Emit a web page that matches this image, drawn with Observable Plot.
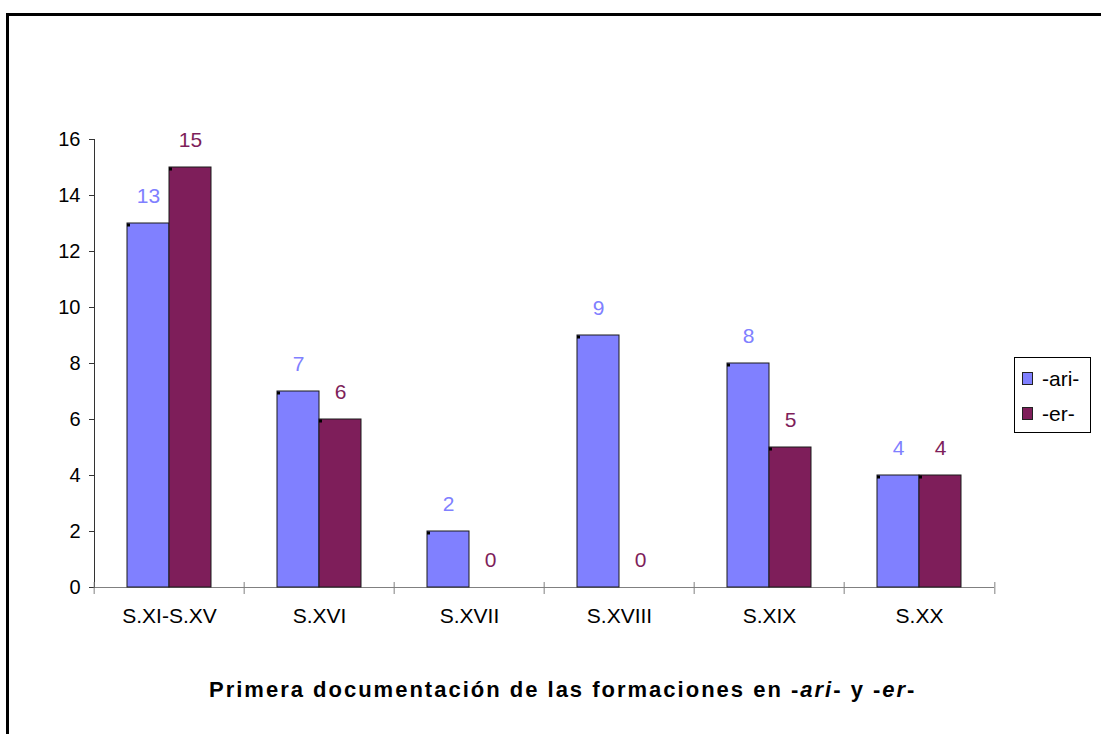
<!DOCTYPE html>
<html>
<head>
<meta charset="utf-8">
<script src="https://cdn.jsdelivr.net/npm/d3@7"></script>
<script src="https://cdn.jsdelivr.net/npm/@observablehq/plot@0.6"></script>
<style>
  html, body { margin: 0; padding: 0; background: #fff; overflow: hidden; width: 1101px; height: 734px; }
  body { position: relative; font-family: "Liberation Sans", Arial, sans-serif; }
  #frame { position: absolute; left: 6px; top: 13px; width: 2000px; height: 2000px; border-left: 3px solid #000; border-top: 3px solid #000; }
  #chart { position: absolute; left: 0; top: 0; }
  #legend { position: absolute; left: 1014px; top: 357px; width: 77px; height: 76px; border: 1px solid #000; box-sizing: border-box; background: #fff; font-size: 21px; }
  .item { position: absolute; left: 0; height: 24px; line-height: 24px; white-space: nowrap; }
  .sw { position: absolute; left: 7px; top: 5px; width: 11px; height: 13px; border: 1px solid #222; box-sizing: border-box; }
  .lab { position: absolute; left: 27px; top: 0; }
  #title { position: absolute; left: 209px; top: 678px; font-size: 22px; line-height: 24px; font-weight: bold; letter-spacing: 2px; white-space: nowrap; color: #000; }
</style>
</head>
<body>
<div id="frame"></div>
<div id="chart"></div>
<div id="legend"></div>
<div id="title"></div>
<script>
const categories = ["S.XI-S.XV", "S.XVI", "S.XVII", "S.XVIII", "S.XIX", "S.XX"];
const series = ["-ari-", "-er-"];
const ariValues = [13, 7, 2, 9, 8, 4];
const erValues = [15, 6, 0, 0, 5, 4];
const seriesColors = ["#8080ff", "#7e1e5a"];
const yTicks = [0, 2, 4, 6, 8, 10, 12, 14, 16];
const titleParts = [["Primera documentación de las formaciones en -", false], ["ari", true], ["- y -", false], ["er", true], ["-", false]];

const data = categories.flatMap((c, i) => [
  {cat: c, s: series[0], v: ariValues[i]},
  {cat: c, s: series[1], v: erValues[i]}
]);

const W = 1101, H = 640, ML = 92, MR = 105, MT = 139, MB = H - 587;
const band = (W - ML - MR) / categories.length;
const padOuter = 0.75;
const barW = band / (2 + 2 * padOuter);

const chart = Plot.plot({
  width: W,
  height: H,
  marginLeft: ML,
  marginRight: MR,
  marginTop: MT,
  marginBottom: MB,
  style: {background: "transparent", fontFamily: "'Liberation Sans', Arial, sans-serif", overflow: "visible", color: "#000"},
  fx: {domain: categories, padding: 0},
  x: {domain: series, paddingInner: 0, paddingOuter: padOuter, axis: null},
  y: {domain: [0, 16]},
  color: {domain: series, range: seriesColors},
  marks: [
    Plot.ruleY([0], {stroke: "#808080", strokeWidth: 1}),
    Plot.frame({anchor: "left", facetAnchor: "left", stroke: "#333"}),
    Plot.axisY({ticks: yTicks, tickSize: 5, tickPadding: 9, fontSize: 20, label: null, stroke: "#333"}),
    Plot.axisFx({anchor: "bottom", text: null, tickSize: 12, dy: -5, dx: -band / 2, stroke: "#808080", label: null}),
    Plot.axisFx({anchor: "bottom", ticks: [categories[categories.length - 1]], text: null, tickSize: 12, dy: -5, dx: band / 2, stroke: "#808080", label: null}),
    Plot.axisFx({anchor: "bottom", tickSize: 0, tickPadding: 21, fontSize: 21, label: null}),
    Plot.barY(data.filter(d => d.v > 0), {fx: "cat", x: "s", y: "v", fill: "s", stroke: "#1a1a1a", strokeWidth: 1}),
    Plot.dot(data.filter(d => d.v > 0), {fx: "cat", x: "s", y: "v", symbol: "square", r: 1.7, fill: "#000", dx: -barW / 2 + 1.5, dy: 1.5}),
    Plot.text(data, {fx: "cat", x: "s", y: "v", text: d => String(d.v), fill: "s", dy: -27, fontSize: 21})
  ]
});
document.getElementById("chart").appendChild(chart);

// legend
const legend = document.getElementById("legend");
series.forEach((s, i) => {
  const item = document.createElement("div");
  item.className = "item";
  item.style.top = (i === 0 ? 9 : 44) + "px";
  const sw = document.createElement("span");
  sw.className = "sw";
  sw.style.background = seriesColors[i];
  const lab = document.createElement("span");
  lab.className = "lab";
  lab.textContent = s;
  item.appendChild(sw);
  item.appendChild(lab);
  legend.appendChild(item);
});

// title
const title = document.getElementById("title");
titleParts.forEach(([t, it]) => {
  const span = document.createElement("span");
  span.textContent = t;
  if (it) span.style.fontStyle = "italic";
  title.appendChild(span);
});
</script>
</body>
</html>
